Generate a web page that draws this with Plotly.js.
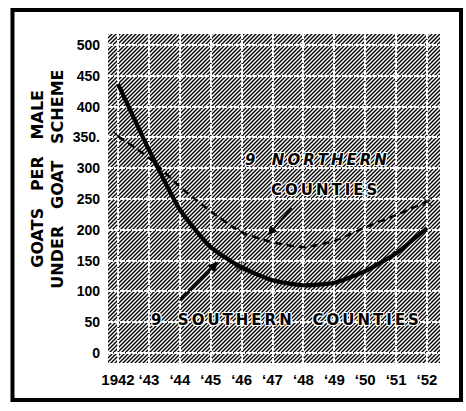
<!DOCTYPE html>
<html>
<head>
<meta charset="utf-8">
<script src="https://cdn.plot.ly/plotly-3.0.1.min.js"></script>
<style>
html,body{margin:0;padding:0;background:#fff;}
#chart{width:466px;height:411px;}
</style>
</head>
<body>
<div id="chart"></div>
<script>
// ---- data ----
const years = [1942, 1943, 1944, 1945, 1946, 1947, 1948, 1949, 1950, 1951, 1952];
const tickLabels = ['1942', '\u201843', '\u201844', '\u201845', '\u201846', '\u201847', '\u201848', '\u201849', '\u201850', '\u201851', '\u201852'];
const southern = [437, 330, 233, 172, 139, 118, 110, 114, 133, 162, 203];
const northern = [352, 317, 270, 230, 196, 180, 172, 182, 204, 224, 246];
const yTicks = [0, 50, 100, 150, 200, 250, 300, 350, 400, 450, 500];
const yTickLabels = ['0', '50', '100', '150', '200', '250', '300', '350.', '400', '450', '500'];
const northMarks = ['x-thin-open', null, null, null, 'x-thin-open', null, null, null, null, null, 'x-thin-open'];
const southMarks = [null, null, null, null, 'asterisk-open', null, null, null, null, null, null];

// ---- styling ----
const F = 'DejaVu Sans, Liberation Sans, sans-serif';
const FT = 'Liberation Sans, Arial, sans-serif';
const hatch = 'data:image/svg+xml;utf8,' + encodeURIComponent(
  '<svg xmlns="http://www.w3.org/2000/svg" width="332" height="329" viewBox="0 0 332 329" preserveAspectRatio="none">' +
  '<defs><pattern id="h" width="4" height="4" patternUnits="userSpaceOnUse">' +
  '<path d="M-1,1 l2,-2 M0,4 l4,-4 M3,5 l2,-2" stroke="#000" stroke-width="1.4"/></pattern></defs>' +
  '<rect width="332" height="329" fill="#fff"/><rect width="332" height="329" fill="url(#h)"/></svg>');

const halo = '1px 1px 0 #fff, -1px -1px 0 #fff, 1px -1px 0 #fff, -1px 1px 0 #fff';
const sp = '\u2009';
const spaced = s => s.split('').map(c => c === ' ' ? '\u00a0\u00a0' : c).join(sp);

const traces = [
  {
    x: years, y: northern, type: 'scatter', mode: 'lines+markers',
    line: {color: '#000', width: 2.4, dash: '7px,5px', shape: 'spline', smoothing: 0.6},
    marker: {symbol: northMarks.map(s => s || 'circle'), size: northMarks.map(s => s ? 9 : 0),
             color: '#000', line: {color: '#000', width: 1.5}},
    hoverinfo: 'skip', showlegend: false
  },
  {
    x: years, y: southern, type: 'scatter', mode: 'lines+markers',
    line: {color: '#000', width: 4.2, shape: 'spline', smoothing: 0.6},
    marker: {symbol: southMarks.map(s => s || 'circle'), size: southMarks.map(s => s ? 11 : 0),
             color: '#000', line: {color: '#000', width: 1.5}},
    hoverinfo: 'skip', showlegend: false
  }
];

const layout = {
  width: 466, height: 411,
  margin: {l: 108, r: 26, t: 34, b: 48, pad: 0},
  paper_bgcolor: '#fff', plot_bgcolor: '#fff',
  showlegend: false,
  xaxis: {
    range: [1941.676, 1952.42], tickvals: years, ticktext: tickLabels, tickangle: 0,
    showgrid: true, gridcolor: '#fff', gridwidth: 2, griddash: '5px,1px',
    zeroline: false, showline: false, ticks: '',
    tickfont: {family: FT, size: 15, color: '#000', weight: 'bold'},
    ticklabelstandoff: 6
  },
  yaxis: {
    range: [-16.2, 517.9], tickvals: yTicks, ticktext: yTickLabels,
    showgrid: true, gridcolor: '#fff', gridwidth: 2, griddash: '5px,1px',
    zeroline: false, showline: false, ticks: '',
    tickfont: {family: FT, size: 14, color: '#000', weight: 'bold'},
    ticklabelstandoff: 7
  },
  images: [{
    source: hatch, xref: 'paper', yref: 'paper', x: 0, y: 1, sizex: 1, sizey: 1,
    sizing: 'stretch', xanchor: 'left', yanchor: 'top', layer: 'below'
  }],
  shapes: [{
    type: 'rect', xref: 'paper', yref: 'paper',
    x0: -0.2877, x1: 1.0633, y0: -0.1125, y1: 1.0729,
    line: {color: '#000', width: 4}, fillcolor: 'rgba(0,0,0,0)'
  }],
  annotations: [
    {xref: 'paper', yref: 'paper', x: -0.211, y: 0.56, xanchor: 'center', yanchor: 'middle',
     textangle: -90, showarrow: false,
     text: 'GOATS\u00a0\u00a0\u00a0PER\u00a0\u00a0\u00a0MALE',
     font: {family: F, size: 16, color: '#000', weight: 'bold'}},
    {xref: 'paper', yref: 'paper', x: -0.151, y: 0.56, xanchor: 'center', yanchor: 'middle',
     textangle: -90, showarrow: false,
     text: 'UNDER\u00a0\u00a0\u00a0GOAT\u00a0\u00a0\u00a0SCHEME',
     font: {family: F, size: 16, color: '#000', weight: 'bold'}},
    {x: 1948.4, y: 313, showarrow: false,
     text: spaced('9 NORTHERN'),
     font: {family: F, size: 15, color: '#000', weight: 'bold', style: 'italic', shadow: halo}},
    {x: 1948.65, y: 265, showarrow: false,
     text: spaced('COUNTIES'),
     font: {family: F, size: 15, color: '#000', weight: 'bold', shadow: halo}},
    {x: 1947.4, y: 54, showarrow: false,
     text: spaced('9 SOUTHERN') + '\u00a0\u00a0\u00a0\u00a0' + spaced('COUNTIES'),
     font: {family: F, size: 15, color: '#000', weight: 'bold', shadow: halo}},
    {x: 1946.85, y: 191, ax: 25, ay: -29, showarrow: true, text: '',
     arrowhead: 2, arrowsize: 1, arrowwidth: 1.8, arrowcolor: '#000'},
    {x: 1945.24, y: 148, ax: -40, ay: 40, showarrow: true, text: '',
     arrowhead: 2, arrowsize: 1, arrowwidth: 2, arrowcolor: '#000'}
  ]
};

Plotly.newPlot('chart', traces, layout, {staticPlot: true, displayModeBar: false});
</script>
</body>
</html>
